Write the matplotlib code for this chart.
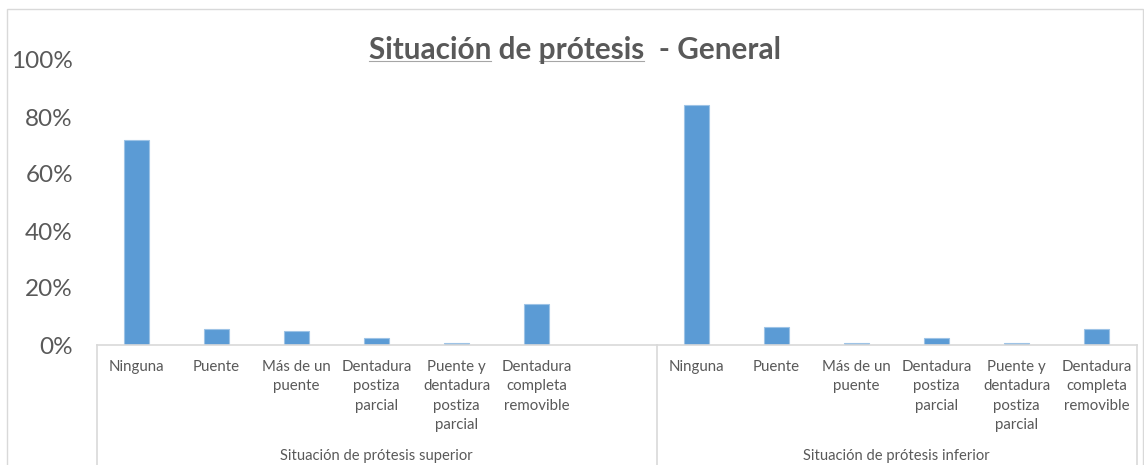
import matplotlib
matplotlib.use("Agg")
import matplotlib.pyplot as plt
from matplotlib.lines import Line2D
from matplotlib.patches import Rectangle

# ---- data ----
categories = ["Ninguna", "Puente", "Más de un\npuente", "Dentadura\npostiza\nparcial",
              "Puente y\ndentadura\npostiza\nparcial", "Dentadura\ncompleta\nremovible"]
groups = ["Situación de prótesis superior", "Situación de prótesis inferior"]
superior = [72.0, 5.5, 4.8, 2.3, 0.6, 14.3]
inferior = [84.2, 6.2, 0.6, 2.3, 0.6, 5.5]
yticks = [0, 20, 40, 60, 80, 100]
title = "Situación de prótesis  - General"

plt.rcParams['font.family'] = ['Lato', 'DejaVu Sans']
TXT = "#595959"
LINE = "#D9D9D9"
BAR = "#5B9BD5"
TFS = 21.4

W, H = 1144, 465
fig = plt.figure(figsize=(W / 100, H / 100), dpi=100)
fig.patch.set_facecolor("white")

# outer chart border
fig.add_artist(Rectangle((7 / W, -0.1), (1143 - 7) / W, 1.1 - 9 / H,
                         transform=fig.transFigure, fill=False,
                         edgecolor=LINE, linewidth=1.0))

left_px, right_px, top_px, zero_px = 96.5, 1136.5, 60, 345
ax = fig.add_axes([left_px / W, (H - zero_px) / H, (right_px - left_px) / W,
                   (zero_px - top_px) / H])

# slots: group 1 has 6 categories + 1 empty slot, group 2 has 6 categories
n1 = len(categories) + 1
x1 = list(range(len(superior)))
x2 = [n1 + i for i in range(len(inferior))]
ax.bar(x1, superior, width=0.31, color=BAR, edgecolor="#9DC3E6", linewidth=0.8)
ax.bar(x2, inferior, width=0.31, color=BAR, edgecolor="#9DC3E6", linewidth=0.8)

ntot = n1 + len(inferior)
ax.set_xlim(-0.5, ntot - 0.5)
ax.set_ylim(0, 100)
ax.set_yticks(yticks)
ax.set_yticklabels([f"{v}%" for v in yticks], color=TXT, fontsize=17.5)
ax.tick_params(axis="y", length=0, pad=17)
ax.set_xticks([])
for s in ["left", "right", "top"]:
    ax.spines[s].set_visible(False)
ax.spines["bottom"].set_color(LINE)
ax.spines["bottom"].set_linewidth(1.2)

trans = ax.get_xaxis_transform()
span = zero_px - top_px
def ay(px):
    return (zero_px - px) / span

# category labels
for xs in (x1, x2):
    for x, lab in zip(xs, categories):
        ax.text(x, ay(360), lab, transform=trans, ha="center", va="top",
                fontsize=10.8, color=TXT, linespacing=1.48, clip_on=False)

# group labels
centers = [(-0.5 + n1 - 0.5) / 2, (n1 - 0.5 + ntot - 0.5) / 2]
for c, g in zip(centers, groups):
    ax.text(c, ay(456), g, transform=trans, ha="center", va="center",
            fontsize=10.6, color=TXT, clip_on=False)

# category box separators
for xv in (-0.5, n1 - 0.5, ntot - 0.5):
    ax.add_line(Line2D([xv, xv], [0, ay(470)], transform=trans, color=LINE,
                       linewidth=1.2, clip_on=False))

# title with underline under "Situación" and "prótesis"
tx, ty = 575 / W, 1 - 50 / H
t = fig.text(tx, ty, title, ha="center", va="center", fontsize=TFS,
             fontweight="bold", color=TXT)
fig.canvas.draw()
r = fig.canvas.get_renderer()
bb = t.get_window_extent(r)
x0 = bb.x0
def wid(s):
    tt = fig.text(0, 0, s, fontsize=TFS, fontweight="bold")
    w = tt.get_window_extent(r).width
    tt.remove()
    return w
uy = bb.y0 + 3
for a, b in [("", "Situación"), ("Situación de ", "Situación de prótesis")]:
    xa = x0 + (wid(a) if a else 0)
    xb = x0 + wid(b)
    fig.add_artist(Line2D([xa / W, xb / W], [uy / H, uy / H],
                          transform=fig.transFigure, color="#A6A6A6",
                          linewidth=0.8))

fig.savefig("out.png", dpi=100)
